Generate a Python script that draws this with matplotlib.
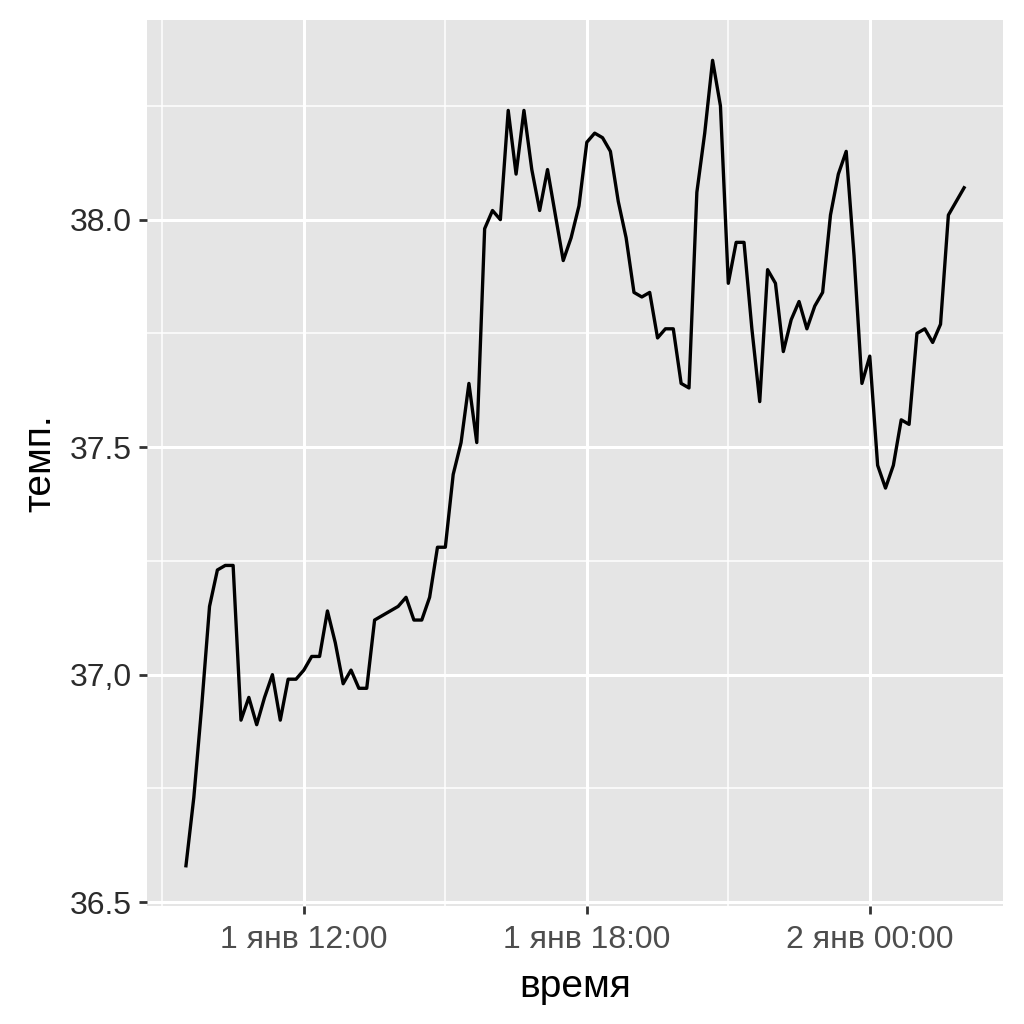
import matplotlib.pyplot as plt
import matplotlib.dates as mdates
import numpy as np
import pandas as pd

plt.rcParams['font.family'] = ['Liberation Sans', 'DejaVu Sans']

# beaver body temperature, every 10 minutes from 1 Jan 09:30
temp = [36.58, 36.73, 36.93, 37.15, 37.23, 37.24, 37.24, 36.90, 36.95, 36.89,
        36.95, 37.00, 36.90, 36.99, 36.99, 37.01, 37.04, 37.04, 37.14, 37.07,
        36.98, 37.01, 36.97, 36.97, 37.12, 37.13, 37.14, 37.15, 37.17, 37.12,
        37.12, 37.17, 37.28, 37.28, 37.44, 37.51, 37.64, 37.51, 37.98, 38.02,
        38.00, 38.24, 38.10, 38.24, 38.11, 38.02, 38.11, 38.01, 37.91, 37.96,
        38.03, 38.17, 38.19, 38.18, 38.15, 38.04, 37.96, 37.84, 37.83, 37.84,
        37.74, 37.76, 37.76, 37.64, 37.63, 38.06, 38.19, 38.35, 38.25, 37.86,
        37.95, 37.95, 37.76, 37.60, 37.89, 37.86, 37.71, 37.78, 37.82, 37.76,
        37.81, 37.84, 38.01, 38.10, 38.15, 37.92, 37.64, 37.70, 37.46, 37.41,
        37.46, 37.56, 37.55, 37.75, 37.76, 37.73, 37.77, 38.01, 38.04, 38.07]
time = pd.date_range("2000-01-01 09:30", periods=len(temp), freq="10min")

x_major = pd.to_datetime(["2000-01-01 12:00", "2000-01-01 18:00", "2000-01-02 00:00"])
x_minor = pd.to_datetime(["2000-01-01 09:00", "2000-01-01 15:00", "2000-01-01 21:00"])
x_labels = ["1 янв 12:00", "1 янв 18:00", "2 янв 00:00"]
y_major = [36.5, 37.0, 37.5, 38.0]
y_minor = [36.75, 37.25, 37.75, 38.25]
y_labels = ["36.5", "37,0", "37.5", "38.0"]

fig = plt.figure(figsize=(10.24, 10.24), dpi=100)
ax = fig.add_axes([0.1436, 0.1152, 0.8359, 0.8652])
ax.set_facecolor("#E5E5E5")
ax.set_axisbelow(True)
for s in ax.spines.values():
    s.set_visible(False)

ax.plot(time, temp, color="black", lw=2.4)

tnum = mdates.date2num(time)
pad = (tnum[-1] - tnum[0]) * 0.05
ax.set_xlim(tnum[0] - pad, tnum[-1] + pad)
ypad = (max(temp) - min(temp)) * 0.05
ax.set_ylim(min(temp) - ypad, max(temp) + ypad)

ax.set_xticks(mdates.date2num(x_major))
ax.set_xticklabels(x_labels)
ax.set_xticks(mdates.date2num(x_minor), minor=True)
ax.set_yticks(y_major)
ax.set_yticklabels(y_labels)
ax.set_yticks(y_minor, minor=True)

ax.grid(which="major", color="white", lw=2.2)
ax.grid(which="minor", color="white", lw=1.1)
ax.tick_params(which="major", length=6, width=2, color="#333333",
               labelsize=23, labelcolor="#4D4D4D")
ax.tick_params(axis="x", pad=8)
ax.tick_params(axis="y", labelcolor="#2B2B2B", pad=5)
ax.tick_params(which="minor", length=0)

ax.set_xlabel("время", fontsize=28, color="black", labelpad=10)
ax.set_ylabel("темп.", fontsize=28, color="black", labelpad=8)

fig.savefig("out.png", dpi=100)
